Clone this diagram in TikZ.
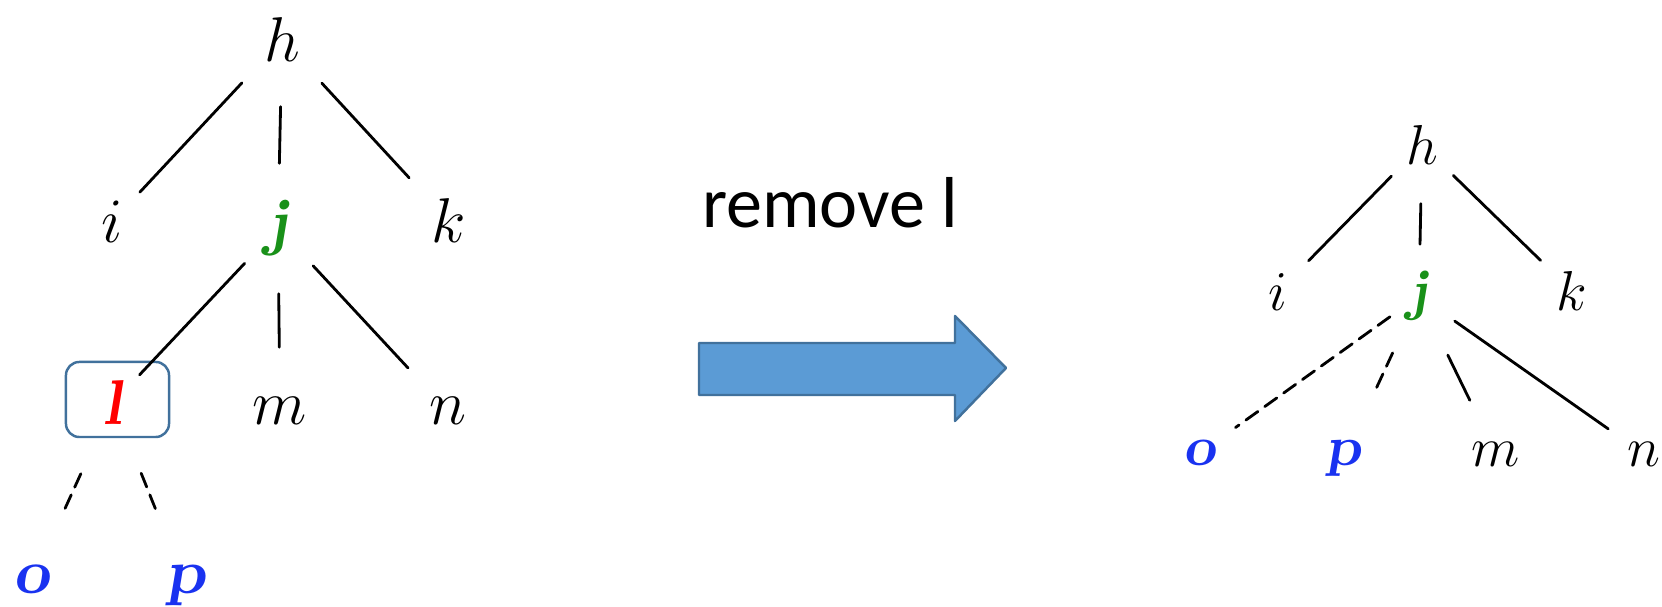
\RequirePackage{fix-cm}
\documentclass[tikz,border=0pt]{standalone}
\usepackage{amsmath}
\usepackage{fontspec}
\newfontfamily\carlito{Carlito}
\usepackage{tikz}
\usetikzlibrary{calc}

\definecolor{jgreen}{RGB}{25,145,25}
\definecolor{opblue}{RGB}{25,50,240}
\definecolor{boxblue}{RGB}{65,113,156}
\definecolor{arrowfill}{RGB}{91,155,213}

\newcommand\bsl[1]{\textbf{\textsl{#1}}}

\begin{document}
\begin{tikzpicture}[
  x=0.01cm,y=-0.01cm,
  line cap=round,line join=round,
  tnode/.style={circle,inner sep=0pt,minimum size=1.16cm,font=\fontsize{18}{20}\selectfont},
  snode/.style={circle,inner sep=0pt,minimum size=0.86cm,font=\fontsize{16}{18}\selectfont},
  edge/.style={line width=0.8pt},
  dedge/.style={line width=0.8pt,dash pattern=on 4.2pt off 2.4pt},
  lbox/.style={draw=boxblue,line width=0.7pt,rounded corners=3.8pt,
    minimum width=1.03cm,minimum height=0.75cm,inner sep=0pt}
]
  \useasboundingbox (0,0) rectangle (1662,607);

  % Tree before
  \node[tnode] (lh) at (282,40) {$h$};
  \node[tnode] (li) at (112,222) {$i$};
  \node[tnode,text=jgreen] (lj) at (278,228) {\bsl{j}};
  \node[tnode] (lk) at (449,221) {$k$};
  \node[tnode,text=red] (ll) at (113,403) {\bsl{l}};
  \node[tnode] (lm) at (280,411) {$m$};
  \node[tnode] (ln) at (448,411) {$n$};
  \node[tnode,text=opblue] (lo) at (33,579) {\bsl{o}};
  \node[tnode,text=opblue] (lp) at (186,585) {\bsl{p}};
  \node[lbox] (lsel) at (117.5,399.5) {};

  \draw[edge,shorten >=-0.18cm] (lh) -- (li);
  \draw[edge,shorten <=0.08cm,shorten >=0.06cm] (lh) -- (lj);
  \draw[edge] (lh) -- (lk);
  \draw[edge,shorten <=-0.1cm,shorten >=-0.2cm] (lj) -- (ll);
  \draw[edge,shorten <=0.07cm,shorten >=0.05cm] (lj) -- (lm);
  \draw[edge,shorten <=-0.07cm] (lj) -- (ln);
  \draw[dedge,shorten <=0.19cm,shorten >=0.11cm] (ll) -- (lo);
  \draw[dedge,shorten <=0.17cm,shorten >=0.18cm] (ll) -- (lp);

  % Step
  \node[font=\carlito\fontsize{20.5}{24}\selectfont,anchor=base] (cap) at (830,228) {remove l};
  \draw[draw=boxblue,fill=arrowfill,line width=0.7pt]
    (699,343) -- (955,343) -- (955,316) -- (1006,368)
    -- (955,421) -- (955,395) -- (699,395) -- cycle;

  % Tree after
  \node[snode] (rh) at (1422,145) {$h$};
  \node[snode] (ri) at (1278,292) {$i$};
  \node[snode,text=jgreen] (rj) at (1419,296) {\bsl{j}};
  \node[snode] (rk) at (1572,291) {$k$};
  \node[snode,text=opblue] (ro) at (1200,453) {\bsl{o}};
  \node[snode,text=opblue] (rp) at (1344,458) {\bsl{p}};
  \node[snode] (rm) at (1496,454) {$m$};
  \node[snode] (rn) at (1644,454) {$n$};

  \draw[edge] (rh) -- (ri);
  \draw[edge,shorten <=0.15cm,shorten >=0.08cm] (rh) -- (rj);
  \draw[edge] (rh) -- (rk);
  \draw[dedge,shorten <=-0.08cm] (rj) -- (ro);
  \draw[dedge,shorten <=0.19cm,shorten >=0.3cm] (rj) -- (rp);
  \draw[edge,shorten <=0.22cm,shorten >=0.16cm] (rj) -- (rm);
  \draw[edge] (rj) -- (rn);
\end{tikzpicture}
\end{document}
